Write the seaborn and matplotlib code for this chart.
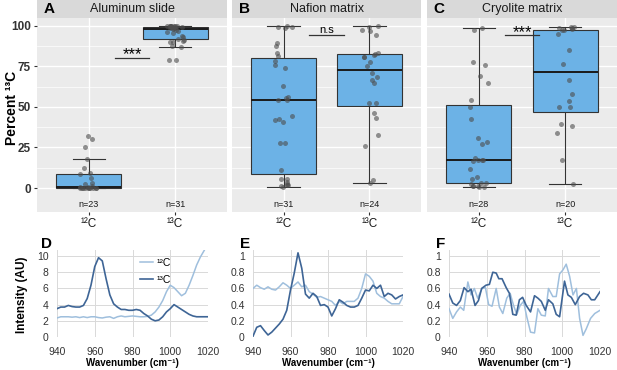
import matplotlib
matplotlib.use("Agg")
import matplotlib.pyplot as plt
from matplotlib.patches import Rectangle
import numpy as np
import pandas as pd
import seaborn as sns

plt.rcParams['font.family'] = ['Liberation Sans', 'DejaVu Sans']

# ---- percent 13C per matrix ----
al_12c = [0, 0, 0, 0, 0, 0, 0, 0.2, 0.3, 0.3, 0.4, 0.4, 1.5, 2.5, 3, 6, 8.5, 9,
          12.5, 18, 25.5, 30.5, 32]
al_13c = [79, 79, 87.2, 87.6, 90, 90.3, 90.9, 91.5, 92, 93.4, 94, 95.5, 96.5, 97,
          97.5, 98.1, 98.5, 99, 99, 99.3, 99.5, 99.5, 99.6, 99.7, 100, 100, 100,
          100, 100, 100, 100]
naf_12c = [0.8, 1.2, 1.6, 1.8, 2.7, 3.7, 5.4, 5.7, 11.3, 28, 28, 40.8, 41.9, 42.5,
           44.3, 54.2, 54.2, 55.3, 56.3, 62.9, 74.2, 75.9, 78.6, 81.4, 83.3, 87.8,
           89.3, 98.5, 99.2, 99.6, 100]
naf_13c = [3.3, 4.7, 26, 32.6, 43.5, 46, 52.2, 52.5, 64.9, 66.6, 68.2, 70.7, 75.5,
           78, 80.6, 81, 82, 82.5, 83, 94.4, 97.1, 97.5, 99.6, 100]
cry_12c = [0.5, 0.8, 1, 1.2, 1.5, 2.2, 2.8, 3.2, 5.8, 6.8, 12, 16.5, 17, 17, 17.2,
           18.8, 27, 28.5, 31.1, 42.5, 50.1, 54.2, 64.5, 69.3, 75.9, 77.5, 97.5, 98.6]
cry_13c = [2.7, 17.5, 34.2, 38.1, 39.2, 49.7, 50.1, 53.6, 57.7, 66.6, 76.3, 85.2,
           94.8, 97.3, 97.5, 98.1, 98.6, 98.6, 99.2, 99.6]

panels = [
    ('A', 'Aluminum slide', al_12c, al_13c, '***', 80.5),
    ('B', 'Nafion matrix', naf_12c, naf_13c, 'n.s', 94.4),
    ('C', 'Cryolite matrix', cry_12c, cry_13c, '***', 94.4),
]
iso_labels = ['¹²C', '¹³C']

# ---- spectra ----
wn = list(range(940, 1021, 2))
d_12c = [2.35, 2.5, 2.5, 2.5, 2.45, 2.5, 2.4, 2.5, 2.4, 2.5, 2.5, 2.4, 2.35, 2.45,
         2.5, 2.3, 2.5, 2.6, 2.5, 2.55, 2.6, 2.55, 2.5, 2.5, 2.55, 2.7, 3.1, 3.7,
         4.5, 5.6, 6.4, 6.1, 5.6, 5.1, 5.4, 6.4, 7.6, 8.9, 9.9, 10.7, 11.5]
d_13c = [3.5, 3.7, 3.7, 3.9, 3.76, 3.7, 3.7, 3.9, 4.75, 6.4, 8.7, 9.8, 9.4, 7.2,
         5.2, 4.1, 3.7, 3.4, 3.4, 3.3, 3.3, 3.4, 3.3, 2.9, 2.6, 2.2, 2.0, 2.1, 2.5,
         3.1, 3.5, 4.0, 3.7, 3.4, 3.1, 2.8, 2.6, 2.5, 2.5, 2.5, 2.5]
e_12c = [0.6, 0.64, 0.61, 0.59, 0.62, 0.59, 0.58, 0.62, 0.67, 0.64, 0.6, 0.64, 0.68,
         0.62, 0.64, 0.56, 0.53, 0.49, 0.50, 0.48, 0.46, 0.44, 0.39, 0.44, 0.41,
         0.44, 0.44, 0.44, 0.48, 0.6, 0.78, 0.75, 0.69, 0.54, 0.50, 0.48, 0.44,
         0.41, 0.41, 0.41, 0.50]
e_13c = [0.01, 0.12, 0.14, 0.08, 0.025, 0.06, 0.11, 0.16, 0.22, 0.33, 0.58, 0.79,
         1.04, 0.85, 0.53, 0.48, 0.54, 0.50, 0.39, 0.40, 0.37, 0.26, 0.35, 0.46,
         0.43, 0.39, 0.37, 0.37, 0.39, 0.48, 0.58, 0.57, 0.64, 0.6, 0.64, 0.50,
         0.54, 0.52, 0.47, 0.50, 0.52]
f_12c_x = [940, 942, 944, 946, 947.8, 950, 951.7, 953.4, 955.2, 957.5, 959.3, 961,
           962.8, 965, 966.7, 968.5, 970.6, 972.4, 974.2, 975.9, 977.7, 979.5,
           981.2, 983.2, 985.3, 987.1, 988.9, 991, 992.7, 995, 996.8, 998.6,
           1000.4, 1002.1, 1003.9, 1005.7, 1007.5, 1009.2, 1011, 1012.7, 1015,
           1017.2, 1020]
f_12c = [0.35, 0.23, 0.31, 0.37, 0.33, 0.68, 0.52, 0.60, 0.48, 0.60, 0.61, 0.40,
         0.38, 0.60, 0.37, 0.29, 0.48, 0.54, 0.39, 0.28, 0.39, 0.44, 0.25, 0.06,
         0.05, 0.35, 0.27, 0.26, 0.60, 0.50, 0.50, 0.78, 0.83, 0.90, 0.75, 0.52,
         0.60, 0.23, 0.02, 0.10, 0.23, 0.29, 0.33]
f_13c_x = [940, 942, 944, 946, 948, 950, 951.7, 953.8, 955.6, 957.3, 959.6, 961.4,
           963.2, 965, 966.4, 968.1, 970.3, 972, 973.8, 975.6, 977.3, 979, 980.9,
           983.2, 985.3, 987.1, 988.9, 991, 992.7, 995, 996.8, 998.6, 1001.2, 1003,
           1004.8, 1006.9, 1009.2, 1011.3, 1013.6, 1015.4, 1017.2, 1020]
f_13c = [0.53, 0.42, 0.39, 0.45, 0.61, 0.56, 0.59, 0.39, 0.45, 0.60, 0.64, 0.65,
         0.80, 0.79, 0.72, 0.72, 0.61, 0.54, 0.28, 0.27, 0.46, 0.49, 0.39, 0.31,
         0.51, 0.48, 0.44, 0.33, 0.46, 0.41, 0.28, 0.25, 0.69, 0.52, 0.49, 0.40,
         0.50, 0.54, 0.52, 0.46, 0.46, 0.56]

box_col = '#6CB2E6'
light_col = '#9FBFDD'
dark_col = '#3E6596'

fig = plt.figure(figsize=(6.17, 3.70), dpi=100)
W, H = 617.0, 370.0

def frac(x0, y0, x1, y1):
    return [x0 / W, 1 - y1 / H, (x1 - x0) / W, (y1 - y0) / H]

top_boxes = [(37, 18, 227, 212), (232, 18, 421, 212), (427, 18, 617, 212)]
np.random.seed(3)

for i, (letter, title, v12, v13, sig, sig_y) in enumerate(panels):
    ax = fig.add_axes(frac(*top_boxes[i]))
    df = pd.DataFrame({'iso': ['12C'] * len(v12) + ['13C'] * len(v13),
                       'pct': v12 + v13})
    sns.boxplot(data=df, x='iso', y='pct', order=['12C', '13C'], width=0.75,
                color=box_col, saturation=1, showfliers=False, whis=1.5,
                linecolor='#333333', linewidth=0.8,
                medianprops={'color': '#1a1a1a', 'linewidth': 1.4}, ax=ax)
    sns.stripplot(data=df, x='iso', y='pct', order=['12C', '13C'], color='#4D4D4D',
                  alpha=0.6, size=3.6, jitter=0.11, linewidth=0, ax=ax)
    ax.set_facecolor('#EBEBEB')
    for s in ax.spines.values():
        s.set_visible(False)
    ax.set_xlim(-0.6, 1.6)
    ax.set_ylim(-14.8, 104.9)
    ax.set_yticks([0, 25, 50, 75, 100])
    ax.set_yticks([12.5, 37.5, 62.5, 87.5], minor=True)
    ax.set_xticks([0, 1])
    ax.set_xticklabels(iso_labels, fontsize=8.5, color='#1a1a1a')
    ax.grid(True, which='major', color='white', lw=1.0)
    ax.grid(True, which='minor', axis='y', color='white', lw=0.5)
    ax.set_axisbelow(True)
    ax.tick_params(axis='x', length=2.5, color='#333333', pad=2)
    ax.tick_params(axis='y', which='minor', length=0)
    if i == 0:
        ax.tick_params(axis='y', length=2.5, color='#333333', pad=2, labelsize=8.5,
                       labelcolor='#333333')
        for t in ax.get_yticklabels():
            t.set_fontweight('bold')
    else:
        ax.tick_params(axis='y', length=0, labelleft=False)
    ax.set_xlabel('')
    ax.set_ylabel('')
    # facet strip
    sh = 18.0 / 194.0
    ax.add_patch(Rectangle((0, 1), 1, sh, transform=ax.transAxes,
                           facecolor='#D9D9D9', edgecolor='none', clip_on=False))
    ax.text(0.5, 1 + sh / 2, title, transform=ax.transAxes, ha='center',
            va='center', fontsize=9, color='#1a1a1a')
    ax.text(0.035, 1 + sh / 2, letter, transform=ax.transAxes, ha='left',
            va='center', fontsize=11, fontweight='bold')
    # significance bracket
    ax.plot([0.3, 0.7], [sig_y, sig_y], color='#333333', lw=0.9)
    if sig == '***':
        ax.text(0.5, sig_y - 1.2, sig, ha='center', va='baseline', fontsize=12)
    else:
        ax.text(0.5, sig_y + 1.3, sig, ha='center', va='baseline', fontsize=8)
    for k, vals in enumerate([v12, v13]):
        ax.text(k, -10, f'n={len(vals)}', ha='center', va='center', fontsize=6.5,
                color='#1a1a1a')

fig.text(12 / W, 1 - 108 / H, 'Percent ¹³C', rotation=90, ha='center',
         va='center', fontsize=10, fontweight='bold')

# ---- spectra panels ----
bot_boxes = [(57, 250, 208, 337), (253, 250, 403, 337), (449, 250, 600, 337)]
spectra = [
    ('D', wn, d_12c, wn, d_13c, 10.75, [0, 2, 4, 6, 8, 10]),
    ('E', wn, e_12c, wn, e_13c, 1.075, [0, 0.2, 0.4, 0.6, 0.8, 1.0]),
    ('F', f_12c_x, f_12c, f_13c_x, f_13c, 1.075, [0, 0.2, 0.4, 0.6, 0.8, 1.0]),
]
letter_x = [41, 240, 436]

for i, (letter, x12, y12, x13, y13, ytop, yt) in enumerate(spectra):
    ax = fig.add_axes(frac(*bot_boxes[i]))
    sns.lineplot(x=x12, y=y12, color=light_col, lw=1.1, ax=ax, label='¹²C')
    sns.lineplot(x=x13, y=y13, color=dark_col, lw=1.2, ax=ax, label='¹³C')
    ax.set_xlim(940, 1020)
    ax.set_ylim(0, ytop)
    ax.set_xticks([940, 960, 980, 1000, 1020])
    ax.set_yticks(yt)
    ax.set_yticklabels([f'{v:g}' for v in yt])
    ax.grid(True, color='#D9D9D9', lw=0.7)
    ax.set_axisbelow(True)
    for s in ax.spines.values():
        s.set_visible(False)
    ax.tick_params(length=0, labelsize=7.5, labelcolor='#333333')
    ax.tick_params(axis='x', pad=7)
    ax.tick_params(axis='y', pad=6)
    ax.set_xlabel('Wavenumber (cm⁻¹)', fontsize=7, fontweight='bold', labelpad=1)
    ax.set_ylabel('')
    if i == 0:
        ax.legend(loc='upper left', bbox_to_anchor=(0.52, 0.96), frameon=False,
                  fontsize=7.5, handlelength=1.3, handletextpad=0.3,
                  labelspacing=0.7, borderaxespad=0)
    else:
        ax.get_legend().remove()
    fig.text(letter_x[i] / W, 1 - 244 / H, letter, ha='left', va='center',
             fontsize=11, fontweight='bold')

fig.text(22 / W, 1 - 295 / H, 'Intensity (AU)', rotation=90, ha='center',
         va='center', fontsize=8.5, fontweight='bold')

fig.savefig('out.png', dpi=100)
